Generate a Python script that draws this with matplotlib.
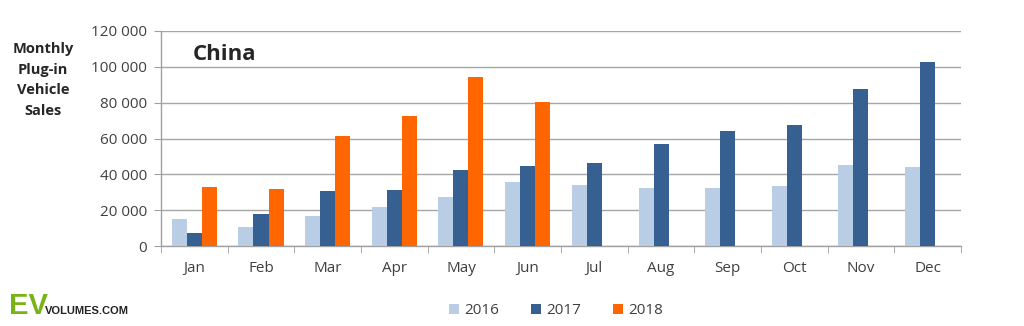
import matplotlib
matplotlib.use("Agg")
import matplotlib.pyplot as plt
import numpy as np
from matplotlib.patches import Patch

months = ["Jan", "Feb", "Mar", "Apr", "May", "Jun", "Jul", "Aug", "Sep", "Oct", "Nov", "Dec"]
sales_2016 = [15000, 10600, 16700, 21800, 27200, 35700, 34200, 32200, 32500, 33700, 45200, 44100]
sales_2017 = [7300, 17900, 30700, 31300, 42200, 44800, 46100, 56700, 64200, 67700, 87600, 102700]
sales_2018 = [33000, 31800, 61600, 72400, 94500, 80500]
series_labels = ["2016", "2017", "2018"]
yticks = [0, 20000, 40000, 60000, 80000, 100000, 120000]

colors = ["#b9cde5", "#366092", "#ff6600"]

plt.rcParams['font.family'] = ['Open Sans', 'DejaVu Sans']

fig = plt.figure(figsize=(10.24, 3.26), dpi=100)
ax = fig.add_axes([161/1024, 80/326, 800/1024, 215/326])

x = np.arange(len(months))
w = 0.225
ax.bar(x - w, sales_2016, w, color=colors[0], zorder=3)
ax.bar(x, sales_2017, w, color=colors[1], zorder=3)
ax.bar(np.arange(len(sales_2018)) + w, sales_2018, w, color=colors[2], zorder=3)

ax.set_xlim(-0.5, len(months) - 0.5)
ax.set_ylim(0, 120000)
ax.set_yticks(yticks)
ax.set_yticklabels([f"{v:,}".replace(",", " ") for v in yticks])
ax.set_xticks(x)
ax.set_xticklabels(months)
ax.set_xticks(np.arange(len(months) + 1) - 0.5, minor=True)
ax.tick_params(axis='x', which='major', length=0, pad=11, labelsize=11, labelcolor='#404040')
ax.tick_params(axis='x', which='minor', length=5, color='#a0a0a0', direction='out')
ax.tick_params(axis='y', length=5, color='#a0a0a0', pad=5, labelsize=11, labelcolor='#404040')

ax.grid(axis='y', color='#a6a6a6', linewidth=1, zorder=0)
for s in ['top', 'right']:
    ax.spines[s].set_visible(False)
for s in ['left', 'bottom']:
    ax.spines[s].set_color('#a0a0a0')
    ax.spines[s].set_linewidth(1)

ax.text(0.04, 0.89, "China", transform=ax.transAxes, fontsize=16, fontweight='bold',
        color='#262626', va='center', ha='left')

fig.text(43/1024, 1 - 80/326, "Monthly\nPlug-in\nVehicle\nSales", ha='center', va='center',
         fontsize=10.5, fontweight='bold', color='#262626', linespacing=1.6)

handles = [Patch(facecolor=c, edgecolor='none') for c in colors]
fig.legend(handles, series_labels, loc='center', bbox_to_anchor=(556/1024, 15/326), ncol=3,
           frameon=False, fontsize=11, handlelength=0.65, handleheight=0.65, handletextpad=0.35,
           columnspacing=2.1, labelcolor='#404040')

fig.text(9/1024, 1 - 314/326, "EV", fontsize=21, color='#7ab317', fontweight='bold',
         ha='left', va='baseline', family=['Liberation Sans Narrow', 'Liberation Sans', 'DejaVu Sans'])
fig.text(45/1024, 1 - 314/326, "VOLUMES.COM", fontsize=8, fontweight='bold', color='#222222',
         ha='left', va='baseline', family=['Liberation Sans Narrow', 'Liberation Sans', 'DejaVu Sans'])

fig.savefig("out.png", dpi=100, facecolor='white')
